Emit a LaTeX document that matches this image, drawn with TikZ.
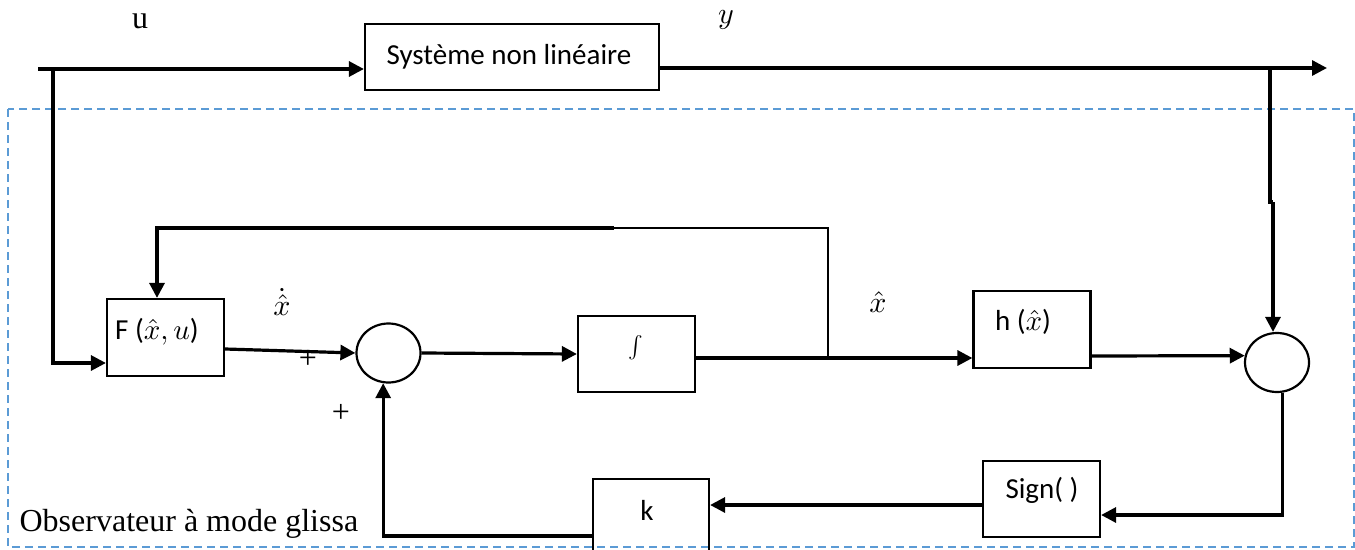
\documentclass[tikz,border=0pt]{standalone}
\usepackage{fontspec}
\setmainfont{Liberation Serif}
\newfontfamily\calibrifont{Carlito}
\usetikzlibrary{arrows.meta,shapes.geometric,calc}
\definecolor{dashblue}{RGB}{91,155,213}
\begin{document}
\begin{tikzpicture}[x=1pt,y=-1pt,
  blockbox/.style={draw,line width=2.2pt,inner sep=0pt,minimum width=117pt,minimum height=77pt},
  sumnode/.style={draw,ellipse,line width=2.2pt,inner sep=0pt,minimum width=64pt,minimum height=59pt},
  conn/.style={line width=3.2pt},
  thinconn/.style={line width=2.2pt},
  arr/.style={-{Triangle[length=15pt,width=15pt]}},
  boxtext/.style={font=\calibrifont\fontsize{10}{12}\selectfont,inner sep=0pt,scale=2.9},
  serlabel/.style={font=\fontsize{10}{12}\selectfont,inner sep=0pt,scale=3.2},
  mathlabel/.style={font=\fontsize{10}{12}\selectfont,inner sep=0pt,scale=3}
]
\clip (0,0) rectangle (1355,549);
\fill[white] (0,0) rectangle (1355,549);

% observer frame
\draw[dashblue,line width=1.6pt,dash pattern=on 8pt off 5pt] (8,109) rectangle (1354,547);

% blocks
\node[blockbox,minimum width=294pt,minimum height=66pt] (sys) at (512,57) {};
\node[boxtext] (systxt) at (509,57) {Système non linéaire};
\node[blockbox] (F) at (165.5,337.5) {};
\node[boxtext] (Ftxt) at (157,332) {F ($\hat{x}, u$)};
\node[sumnode] (c1) at (388.5,353) {};
\node[blockbox,minimum height=76pt] (int) at (636.5,354) {};
\node[inner sep=0pt,font=\fontsize{10}{12}\selectfont,scale=2.2] (inttxt) at (636,348) {$\int$};
\node[blockbox] (h) at (1032,329.5) {};
\node[boxtext] (htxt) at (1023,322) {h ($\hat{x}$)};
\node[sumnode] (c2) at (1277,362.5) {};
\node[blockbox,minimum height=76pt] (sign) at (1041.5,499) {};
\node[boxtext] (signtxt) at (1042,490) {Sign( )};
\node[blockbox,minimum width=116pt,minimum height=82pt] (k) at (651,520) {};
\node[boxtext] (ktxt) at (647,510) {k};

% labels
\node[serlabel] (ulab) at (140,21) {u};
\node[mathlabel] (ylab) at (726,20) {$y$};
\node[mathlabel] (xdotlab) at (282,302) {$\dot{\hat{x}}$};
\node[mathlabel] (xhatlab) at (878,302) {$\hat{x}$};
\node[serlabel] (plus1) at (308,359) {+};
\node[serlabel] (plus2) at (341,413) {+};
\node[serlabel,anchor=base west] (obs) at (19,531) {Observateur à mode glissa};

% coordinates
\coordinate (inL) at (38,69);
\coordinate (bu) at (53,69);
\coordinate (outR) at (1327,68);
\coordinate (yb) at (1270,68);
\coordinate (yj1) at (1270,202);
\coordinate (yj2) at (1273,202);
\coordinate (j) at (828,358);
\coordinate (fbR) at (828,228);
\coordinate (fbM) at (614,228);
\coordinate (fbL) at (157,228);
\coordinate (Fin) at ($(F.west)+(0,25.5)$);
\coordinate (Fout) at ($(F.east)+(0,11.5)$);
\coordinate (intout) at ($(int.east)+(0,4)$);
\coordinate (hin) at (h.west |- j);
\coordinate (hout) at ($(h.east)+(0,26.5)$);
\coordinate (signin) at ($(sign.east)+(0,16)$);
\coordinate (signout) at ($(sign.west)+(0,6)$);
\coordinate (kin) at (k.east |- signout);
\coordinate (kout) at ($(k.west)+(0,16)$);

% top path
\draw[conn,arr] (inL) -- (inL -| sys.west);
\draw[conn,arr] (sys.east |- outR) -- (outR);
\draw[conn,arr] (bu) |- (Fin);

% forward chain
\draw[conn,arr] (Fout) -- (c1.west);
\draw[conn,arr] (c1.east) -- (int.west);
\draw[conn] (intout) -- (j);
\draw[conn,arr] (j) -- (hin);
\draw[conn,arr] (hout) -- (c2.168);

% measured output branch
\draw[conn] (yb) -- (yj1) -- (yj2);
\draw[conn,arr] (yj2) -- (yj2 |- c2.north);

% error feedback
\draw[conn,arr] (c2.-80) |- (signin);
\draw[conn,arr] (signout) -- (kin);
\draw[conn,arr] (kout) -| (c1.-100);

% state feedback to F
\draw[thinconn] (j) -- (fbR) -- (fbM);
\draw[conn,arr] (fbM) -- (fbL) -- (fbL |- F.north);
\end{tikzpicture}
\end{document}
